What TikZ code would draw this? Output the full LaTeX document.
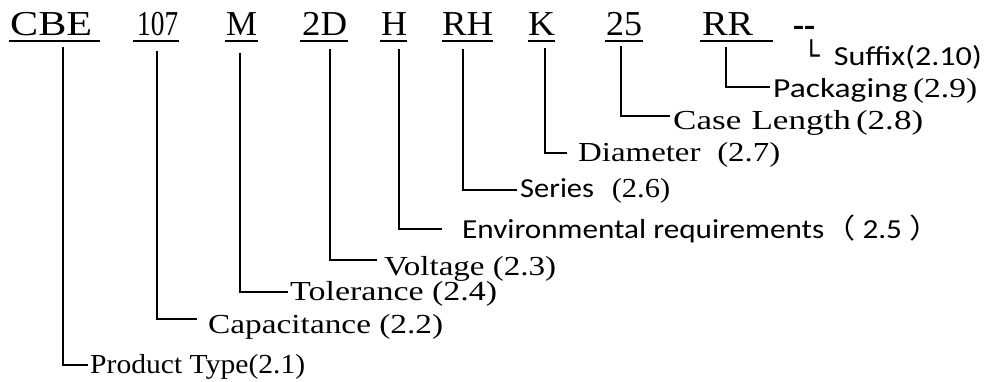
\documentclass[tikz,border=0pt]{standalone}
\usepackage{fontspec}
\usepackage{graphicx}
\setmainfont{Liberation Serif}
\newfontfamily\calib{Carlito}
\newfontfamily\cjk{Noto Sans CJK SC}
\newfontfamily\boxfont{DejaVu Sans}
\newcommand{\fitw}[2]{\resizebox{#1}{\height}{#2}}

\tikzset{
  code/.style={anchor=base west, inner sep=0pt, font=\fontsize{35}{40}\selectfont},
  lbl/.style={anchor=base west, inner sep=0pt, font=\fontsize{27.5}{30}\selectfont},
  leg/.style={line width=1.6pt},
}

\begin{document}
\begin{tikzpicture}[x=1pt,y=-1pt]
        \useasboundingbox (0,0) rectangle (990,382);

        % Draw the part number groups
        \node[code] (cbe)  at (10,36)  {\fitw{82pt}{CBE}};
        \node[code] (cap)  at (137,36) {\fitw{41pt}{107}};
        \node[code] (tol)  at (226,36) {\fitw{31pt}{M}};
        \node[code] (volt) at (302,36) {\fitw{45pt}{2D}};
        \node[code] (env)  at (381,36) {\fitw{26pt}{H}};
        \node[code] (ser)  at (442,36) {\fitw{51pt}{RH}};
        \node[code] (dia)  at (528,36) {\fitw{27pt}{K}};
        \node[code] (len)  at (606,36) {\fitw{36pt}{25}};
        \node[code] (pack) at (702,36) {\fitw{51pt}{RR}};
        \node[code, font=\fontsize{30}{34}\selectfont\calib\bfseries] (suf) at (793,37) {\fitw{22pt}{-{}-}};

        % Underline the groups
        \foreach \a/\b in {9/100,133/179,225/258,300/348,380/407,442/493,528/555,605/643,700/773}
            \draw[line width=1.5pt] (\a,41) -- (\b,41);

        % Drop points below the groups
        \coordinate (cbe-x)  at (63,47);
        \coordinate (cap-x)  at (157,51);
        \coordinate (tol-x)  at (240,53);
        \coordinate (volt-x) at (330,49);
        \coordinate (env-x)  at (399,49);
        \coordinate (ser-x)  at (463,49);
        \coordinate (dia-x)  at (545,48);
        \coordinate (len-x)  at (621,46);
        \coordinate (pack-x) at (726,47);

        % Label the groups
        \node[lbl] (ptype)   at (90,373)  {\fitw{215pt}{Product Type(2.1)}};
        \node[lbl] (capac)   at (208,333) {\fitw{235pt}{Capacitance (2.2)}};
        \node[lbl] (toler)   at (290,300) {\fitw{207pt}{Tolerance (2.4)}};
        \node[lbl] (voltage) at (384,275) {\fitw{172pt}{Voltage (2.3)}};
        \node[lbl] (environ) at (462,238) {\fitw{478pt}{{\calib Environmental requirements}{\cjk （}{\calib\ 2.5\ }{\cjk ）}}};
        \node[lbl] (series)  at (520,197) {\fitw{150pt}{{\calib Series}\hspace{16pt}(2.6)}};
        \node[lbl] (diam)    at (578,162) {\fitw{202pt}{Diameter\hspace{14pt}(2.7)}};
        \node[lbl] (caselen) at (673,130) {\fitw{250pt}{Case\hspace{8pt}Length\hspace{4pt}(2.8)}};
        \node[lbl] (packg)   at (773,98)  {\fitw{204pt}{{\calib Packaging}\,(2.9)}};
        \node[lbl] (suffix)  at (803,66)  {{\boxfont └}\hspace{14pt}{\calib\fitw{148pt}{Suffix(2.10)}}};

        % Connect the groups to their labels
        \foreach \a/\b/\dy/\gap in {cbe/ptype/8/2, cap/capac/14/11, tol/toler/8/2, volt/voltage/15/7,
                                     env/environ/9/20, ser/series/7/3, dia/diam/9/11, len/caselen/14/3, pack/packg/11/3}
            \draw[leg] (\a-x) |- ([xshift=-\gap pt, yshift=\dy pt]\b.base west);
\end{tikzpicture}
\end{document}
